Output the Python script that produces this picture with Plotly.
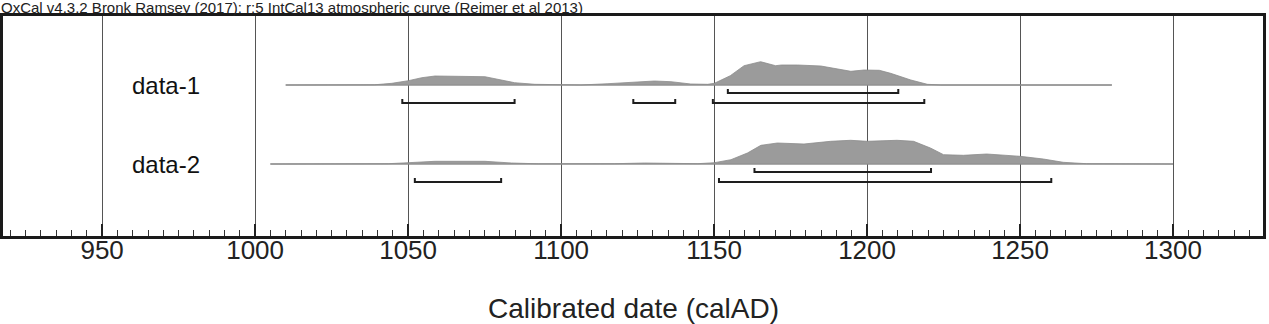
import plotly.graph_objects as go

# ---------------- data ----------------
header_text = "OxCal v4.3.2 Bronk Ramsey (2017); r:5 IntCal13 atmospheric curve (Reimer et al 2013)"
x_title = "Calibrated date (calAD)"
tick_vals = [950, 1000, 1050, 1100, 1150, 1200, 1250, 1300]
tick_text = ["950", "1000", "1050", "1100", "1150", "1200", "1250", "1300"]

names = ["data-1", "data-2"]

# probability distributions (relative heights) by calendar year AD
d1_years = [1010, 1039, 1044.7, 1050.1, 1054.5, 1058.8, 1075.1, 1080.5, 1084.8, 1091.4, 1100,
            1106.5, 1115.3, 1122.9, 1130.5, 1135.9, 1142.4, 1147.9, 1150.1, 1155.3, 1159.8,
            1165.2, 1170.1, 1172, 1177.3, 1184.9, 1190.3, 1194.7, 1199, 1204, 1207.7, 1214.3,
            1219.7, 1224, 1280]
d1_prob = [0, 0.2, 1.7, 4.3, 7.3, 9.0, 8.3, 5.0, 2.3, 0.7, 0,
           0, 1.3, 3.0, 4.0, 3.3, 1.0, 0.7, 1.7, 9.3, 19.3,
           23.3, 19.3, 20.0, 20.0, 19.0, 16.0, 13.7, 15.0, 14.7, 11.7, 5.0,
           0.7, 0, 0]

d2_years = [1005, 1033.8, 1043.6, 1050.1, 1058.8, 1075.1, 1083.8, 1092.5, 1106.6, 1117.5,
            1127.3, 1137, 1144.7, 1150.1, 1155.5, 1160.9, 1165.3, 1170.7, 1179.4, 1188.1,
            1194.6, 1200, 1209.8, 1215.2, 1220.7, 1225, 1231.5, 1239.1, 1250, 1257.6,
            1264.1, 1271.7, 1280.4, 1300]
d2_prob = [0, 0, 0.3, 1.3, 2.7, 2.7, 1.0, 0.2, 0, 0.3,
           1.0, 0.5, 0.3, 1.3, 4.3, 11.0, 18.7, 21.0, 20.0, 22.7,
           23.7, 22.7, 23.7, 22.7, 16.0, 9.3, 8.7, 10.0, 7.7, 5.0,
           1.7, 0.3, 0, 0]

# highest posterior density ranges (calAD)
d1_hpd68 = [(1154.5, 1210.2)]
d1_hpd95 = [(1048.1, 1084.8), (1123.6, 1137.3), (1149.6, 1218.7)]
d2_hpd68 = [(1163.2, 1220.9)]
d2_hpd95 = [(1052.2, 1080.4), (1151.6, 1260.2)]

# ---------------- layout constants ----------------
FONT = "Liberation Sans, Arial, sans-serif"
rows = [
    dict(name=names[0], years=d1_years, prob=d1_prob, h68=d1_hpd68, h95=d1_hpd95, base=151.0),
    dict(name=names[1], years=d2_years, prob=d2_prob, h68=d2_hpd68, h95=d2_hpd95, base=72.0),
]
off68, off95, hook = 8.0, 18.0, 4.0

fig = go.Figure()
for r in rows:
    b = r["base"]
    # baseline
    fig.add_trace(go.Scatter(x=[r["years"][0], r["years"][-1]], y=[b, b], mode="lines",
                             line=dict(color="#8a8a8a", width=1), hoverinfo="skip", showlegend=False))
    # filled distribution
    px = list(r["years"]) + list(reversed(r["years"]))
    py = [b + p for p in r["prob"]] + [b] * len(r["years"])
    fig.add_trace(go.Scatter(x=px, y=py, mode="lines", fill="toself", fillcolor="#9b9b9b",
                             line=dict(color="#8c8c8c", width=0.8), hoverinfo="skip", showlegend=False))
    # brackets
    for ranges, off in ((r["h68"], off68), (r["h95"], off95)):
        yb = b - off
        for a, c in ranges:
            fig.add_trace(go.Scatter(x=[a, a, c, c], y=[yb + hook, yb, yb, yb + hook], mode="lines",
                                     line=dict(color="#1e1e1e", width=2), hoverinfo="skip",
                                     showlegend=False))
    fig.add_annotation(x=970.8, y=b, xref="x", yref="y", text=r["name"], showarrow=False,
                       xanchor="center", yanchor="middle",
                       font=dict(family=FONT, size=24, color="#111"))

fig.add_annotation(x=-0.0024, y=1.0818, xref="paper", yref="paper", text=header_text,
                   showarrow=False, xanchor="left", yanchor="top", borderpad=0,
                   font=dict(family=FONT, size=15, color="#222"))
fig.add_annotation(x=0.5, y=-0.33, xref="paper", yref="paper", text=x_title,
                   showarrow=False, xanchor="center", yanchor="middle",
                   font=dict(family=FONT, size=28, color="#222"))

fig.update_layout(
    width=1269, height=324,
    margin=dict(l=3, r=3, t=16, b=88, pad=0),
    paper_bgcolor="white", plot_bgcolor="white",
    showlegend=False,
    xaxis=dict(range=[917.6, 1329.4], tickvals=tick_vals, ticktext=tick_text,
               ticks="inside", ticklen=12, tickwidth=2, tickcolor="#222",
               ticklabelstandoff=-11,
               showgrid=True, gridcolor="#555555", gridwidth=1.4,
               showline=True, linecolor="#1a1a1a", linewidth=2.5, mirror=True,
               zeroline=False, fixedrange=True,
               tickfont=dict(family=FONT, size=26, color="#222"),
               minor=dict(dtick=5, tick0=0, ticks="inside", ticklen=6, tickwidth=1,
                          tickcolor="#333", showgrid=False)),
    yaxis=dict(range=[0, 220], showticklabels=False, ticks="", showgrid=False,
               showline=True, linecolor="#1a1a1a", linewidth=2.5, mirror=True,
               zeroline=False, fixedrange=True),
)

fig.write_html("out.html")
